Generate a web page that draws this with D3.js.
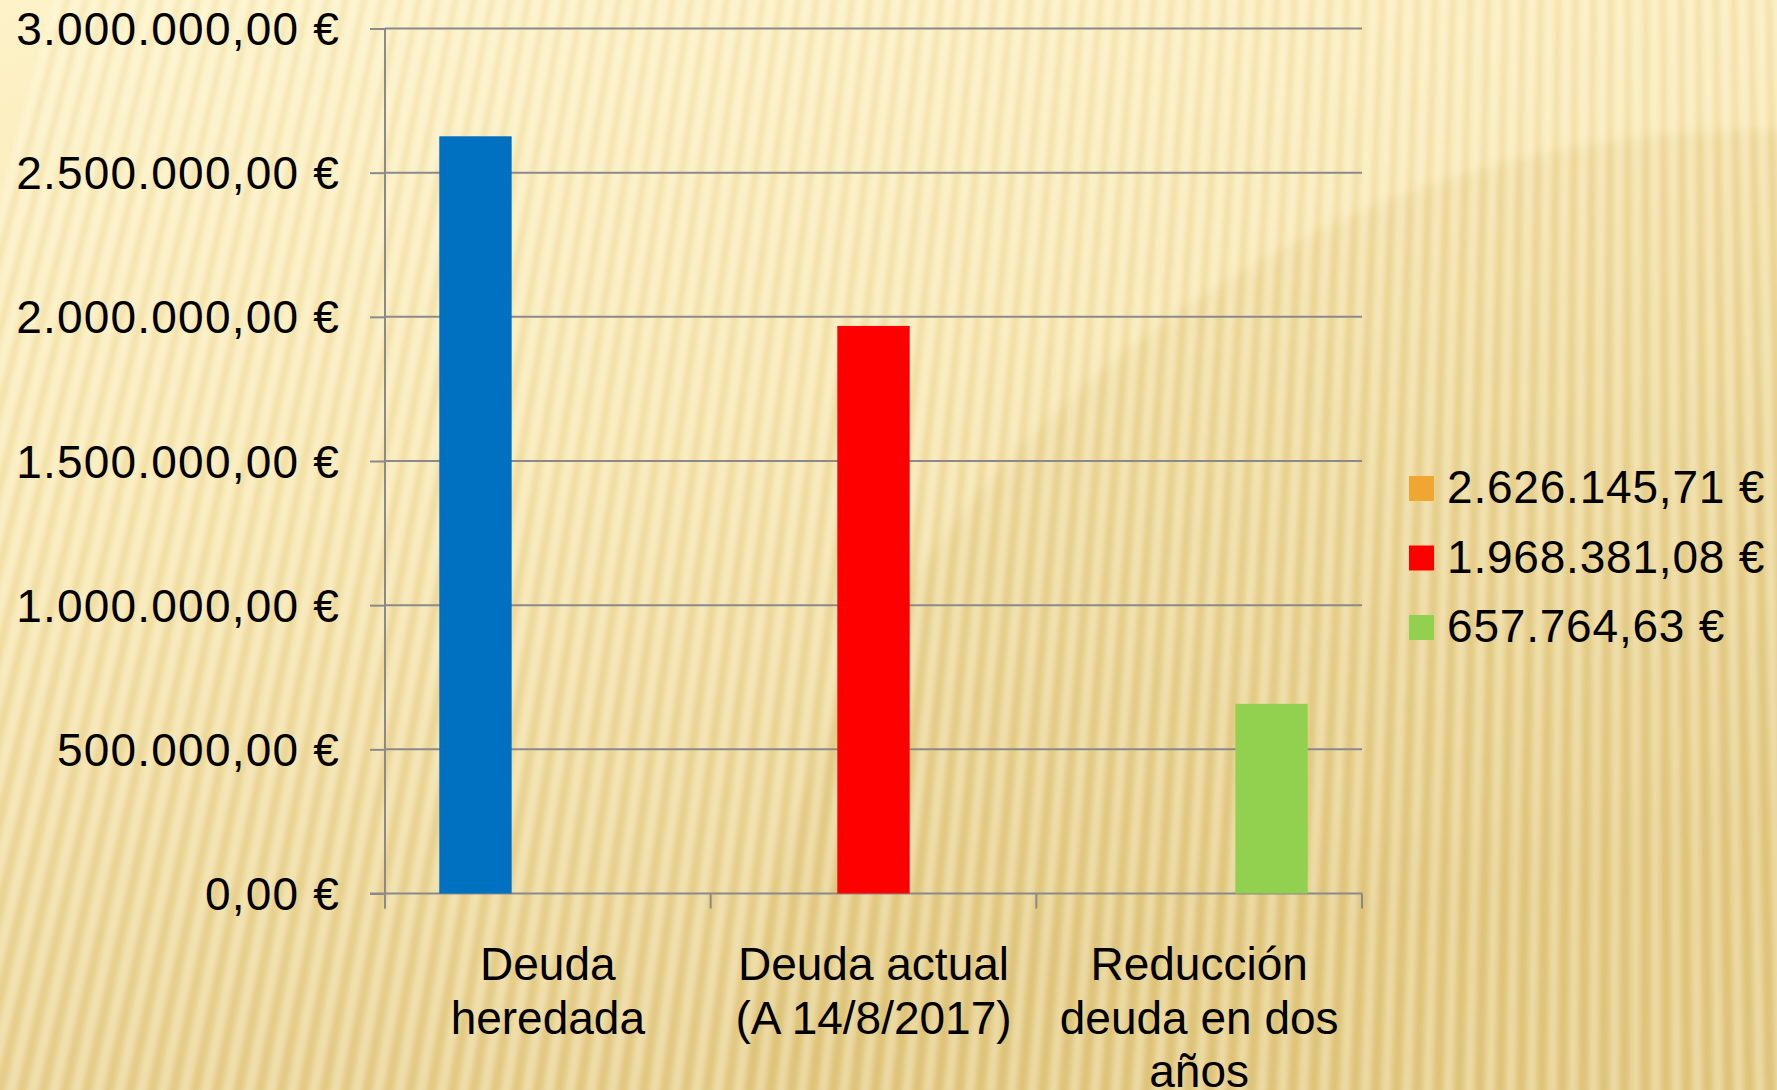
<!DOCTYPE html>
<html>
<head>
<meta charset="utf-8">
<title>Deuda</title>
<script src="https://d3js.org/d3.v7.min.js"></script>
<style>
    html, body { margin: 0; padding: 0; overflow: hidden; }
    svg { display: block; font-family: "Liberation Sans", Arial, sans-serif; }
    .grid line, .axis line, .axis path { stroke: #8a8a8a; stroke-width: 2px; }
    .ylab { font-size: 46px; letter-spacing: 1.2px; fill: #000; }
    .xlab { font-size: 46px; fill: #000; }
    .leg { font-size: 46px; letter-spacing: 0.8px; fill: #000; }
</style>
</head>
<body>
<div id="chart"></div>
<script>
// chart data
const categories = ["Deuda heredada", "Deuda actual (A 14/8/2017)", "Reducción deuda en dos años"];
const categoryLines = [["Deuda", "heredada"], ["Deuda actual", "(A 14/8/2017)"], ["Reducción", "deuda en dos", "años"]];
const seriesNames = ["2.626.145,71 €", "1.968.381,08 €", "657.764,63 €"];
const serie1 = [2626145.71, 0, 0];
const serie2 = [0, 1968381.08, 0];
const serie3 = [0, 0, 657764.63];
const barColors = ["#0070C0", "#FF0000", "#92D050"];
const legendColors = ["#F0A732", "#FF0000", "#92D050"];
const yTicks = [0, 500000, 1000000, 1500000, 2000000, 2500000, 3000000];

const allSeries = [serie1, serie2, serie3];

const width = 1777, height = 1090;
const plotLeft = 385, plotRight = 1362, plotTop = 28.5, plotBottom = 893.5;

const svg = d3.select("#chart").append("svg")
    .attr("width", width)
    .attr("height", height);

// ---- background: warm gradient, soft stripes, big arc
const defs = svg.append("defs");
const bg = defs.append("linearGradient").attr("id", "bg")
    .attr("x1", "0%").attr("y1", "0%").attr("x2", "35%").attr("y2", "100%");
bg.append("stop").attr("offset", "0%").attr("stop-color", "#fdf2c8");
bg.append("stop").attr("offset", "45%").attr("stop-color", "#f7e6b0");
bg.append("stop").attr("offset", "100%").attr("stop-color", "#e4cb86");

defs.append("filter").attr("id", "soft")
    .append("feGaussianBlur").attr("stdDeviation", 2.2);
defs.append("filter").attr("id", "edge")
    .append("feGaussianBlur").attr("stdDeviation", 4);

svg.append("rect").attr("width", width).attr("height", height).attr("fill", "url(#bg)");

// darker round area in the upper right
svg.append("circle")
    .attr("cx", 1760).attr("cy", 1150).attr("r", 1020)
    .attr("fill", "#d6b863").attr("opacity", 0.2)
    .attr("filter", "url(#edge)");

// fan of stripes coming from a point far above
const focus = [1650, -6000];
const step = 19 / 6500;
const rays = d3.range(-0.26, 0.05, step);
const stripes = svg.append("g").attr("filter", "url(#soft)");
stripes.append("g").selectAll("path")
    .data(rays)
    .join("path")
    .attr("d", a => {
        const dy = 1200 - focus[1];
        const xa = focus[0] + dy * Math.tan(a);
        const xb = focus[0] + dy * Math.tan(a + step * 0.45);
        return `M${focus[0]},${focus[1]}L${xa},1200L${xb},1200Z`;
    })
    .attr("fill", "#fffbe8")
    .attr("opacity", 0.35);
stripes.append("g").selectAll("path")
    .data(rays)
    .join("path")
    .attr("d", a => {
        const dy = 1200 - focus[1];
        const xa = focus[0] + dy * Math.tan(a + step * 0.55);
        const xb = focus[0] + dy * Math.tan(a + step * 0.85);
        return `M${focus[0]},${focus[1]}L${xa},1200L${xb},1200Z`;
    })
    .attr("fill", "#c9a84f")
    .attr("opacity", 0.13);

// ---- scales
const y = d3.scaleLinear().domain([0, 3000000]).range([plotBottom, plotTop]);
const x0 = d3.scaleBand().domain(categories).range([plotLeft, plotRight]);
const x1 = d3.scaleBand().domain([0, 1, 2]).range([0, x0.bandwidth()]).paddingOuter(0.75);

const es = d3.formatLocale({ decimal: ",", thousands: ".", grouping: [3], currency: ["", " €"] });
const fmt = es.format("$,.2f");

// gridlines
svg.append("g").attr("class", "grid")
    .selectAll("line")
    .data(yTicks.slice(1))
    .join("line")
    .attr("x1", plotLeft).attr("x2", plotRight)
    .attr("y1", d => y(d)).attr("y2", d => y(d));

// y axis
const yAxis = svg.append("g").attr("class", "axis")
    .attr("transform", `translate(${plotLeft},0)`)
    .call(d3.axisLeft(y).tickValues(yTicks).tickSize(15).tickSizeOuter(0).tickFormat(fmt));
yAxis.select(".domain").attr("d", `M0,${plotTop}V${plotBottom + 15}`);
yAxis.selectAll("text")
    .attr("class", "ylab")
    .attr("x", -45)
    .attr("dy", "0.35em");

// x axis
const xAxis = svg.append("g").attr("class", "axis")
    .attr("transform", `translate(0,${plotBottom})`);
xAxis.append("line").attr("x1", plotLeft - 15).attr("x2", plotRight);
xAxis.selectAll(".xt")
    .data(d3.range(categories.length + 1))
    .join("line")
    .attr("class", "xt")
    .attr("x1", i => plotLeft + i * x0.step()).attr("x2", i => plotLeft + i * x0.step())
    .attr("y1", 0).attr("y2", 15);

// bars
allSeries.forEach((vals, s) => {
    svg.append("g").selectAll("rect")
        .data(vals.map((v, i) => ({ cat: categories[i], v: v })).filter(d => d.v > 0))
        .join("rect")
        .attr("x", d => x0(d.cat) + x1(s))
        .attr("width", x1.bandwidth())
        .attr("y", d => y(d.v))
        .attr("height", d => y(0) - y(d.v))
        .attr("fill", barColors[s]);
});

// category labels
svg.append("g").selectAll("text")
    .data(categories)
    .join("text")
    .attr("class", "xlab")
    .attr("text-anchor", "middle")
    .attr("x", d => x0(d) + x0.bandwidth() / 2)
    .attr("y", 980)
    .each(function (d, i) {
        d3.select(this).selectAll("tspan")
            .data(categoryLines[i])
            .join("tspan")
            .attr("x", x0(d) + x0.bandwidth() / 2)
            .attr("dy", (t, j) => j === 0 ? 0 : 53.5)
            .text(t => t);
    });

// legend
const leg = svg.append("g").attr("transform", "translate(1409,503)");
const row = leg.selectAll("g")
    .data(seriesNames)
    .join("g")
    .attr("transform", (d, i) => `translate(0,${i * 69.5})`);
row.append("rect")
    .attr("y", -27).attr("width", 25).attr("height", 25)
    .attr("fill", (d, i) => legendColors[i]);
row.append("text")
    .attr("class", "leg")
    .attr("x", 38)
    .text(d => d);
</script>
</body>
</html>
